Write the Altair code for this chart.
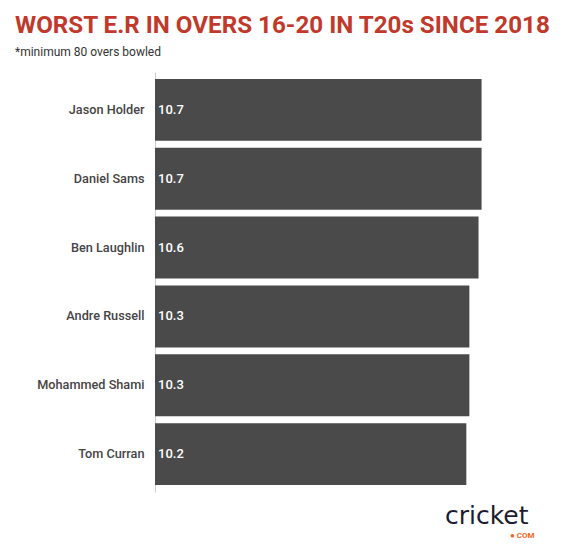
import altair as alt
import pandas as pd

players = ["Jason Holder", "Daniel Sams", "Ben Laughlin", "Andre Russell", "Mohammed Shami", "Tom Curran"]
economy = [10.7, 10.7, 10.6, 10.3, 10.3, 10.2]
labels = ["10.7", "10.7", "10.6", "10.3", "10.3", "10.2"]

df = pd.DataFrame({"player": players, "er": economy, "label": labels})

y_enc = alt.Y("player:N", sort=players, title=None,
              scale=alt.Scale(paddingInner=0.1, paddingOuter=0.1),
              axis=alt.Axis(ticks=False, domain=True, domainColor="#cccccc", domainWidth=1,
                            labelFont="Roboto", labelFontSize=12.7, labelFontWeight=500,
                            labelColor="#444444", labelPadding=11,
                            minExtent=147, maxExtent=147, labelLimit=200))

bars = alt.Chart(df).mark_bar(color="#4a4a4a").encode(
    x=alt.X("er:Q", scale=alt.Scale(domain=[0, 11.5], nice=False), axis=None),
    y=y_enc,
)

text = alt.Chart(df).mark_text(align="left", baseline="middle", dx=3, color="white",
                               font="Roboto", fontSize=13, fontWeight=500).encode(
    x=alt.value(0),
    y=alt.Y("player:N", sort=players),
    text="label:N",
)

logo_df = pd.DataFrame({"t": ["cricket"]})
logo = alt.Chart(logo_df).mark_text(align="left", baseline="alphabetic", font="DejaVu Sans",
                                     fontSize=25, fontWeight="normal", color="#1c1c2e").encode(
    x=alt.value(290), y=alt.value(452), text="t:N")
com_df = pd.DataFrame({"t": ["● COM"]})
com = alt.Chart(com_df).mark_text(align="left", baseline="alphabetic", font="Roboto",
                                   fontSize=8, fontWeight="bold", color="#f26522").encode(
    x=alt.value(355), y=alt.value(466), text="t:N")

chart = alt.layer(bars, text, logo, com).properties(
    width=351, height=420,
    padding={"left": 0, "top": 5, "right": 5, "bottom": 5},
    title=alt.TitleParams(
        text="WORST E.R IN OVERS 16-20 IN T20s SINCE 2018",
        subtitle="*minimum 80 overs bowled",
        anchor="start", frame="group", dx=-140,
        font="Roboto", fontSize=24.2, fontWeight="bold", color="#c0392b",
        subtitleFont="Roboto", subtitleFontSize=12, subtitleColor="#333333",
        subtitlePadding=9, offset=14,
    ),
).configure_view(stroke=None)

chart.save("out.html", embed_options={"renderer": "svg", "actions": False})
